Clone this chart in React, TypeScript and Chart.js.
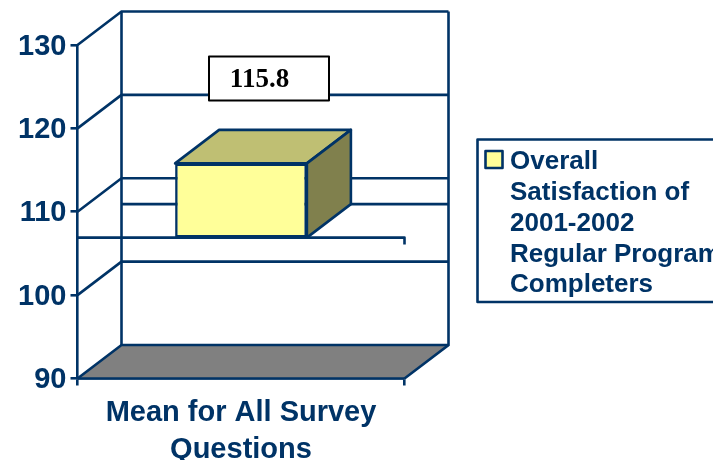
import { useEffect, useRef } from "react";
import { Chart, registerables } from "chart.js";

Chart.register(...registerables);

const categories = [["Mean for All Survey", "Questions"]];
const seriesLines = ["Overall", "Satisfaction of", "2001-2002", "Regular Program", "Completers"];
const seriesValues = [115.8];
const barBase = 106.9;
const yTicks = [90, 100, 110, 120, 130];

const NAVY = "#003366";
const STROKE = 2.6;
const DEPTH_X = 44;
const DEPTH_Y = -33.5;

// Draws the back wall, side wall, floor and the gridlines behind the box.
const walls = {
  id: "walls",
  beforeDatasetsDraw(chart: any) {
    const { ctx, chartArea: a, scales } = chart;
    const y = scales.y;
    const line = (pts: number[][]) => {
      ctx.beginPath();
      pts.forEach((p, i) => (i ? ctx.lineTo(p[0], p[1]) : ctx.moveTo(p[0], p[1])));
      ctx.stroke();
    };
    ctx.save();
    ctx.strokeStyle = NAVY;
    ctx.lineWidth = STROKE;
    ctx.lineJoin = "miter";

    ctx.fillStyle = "#808080";
    ctx.beginPath();
    ctx.moveTo(a.left, a.bottom);
    ctx.lineTo(a.left + DEPTH_X, a.bottom + DEPTH_Y);
    ctx.lineTo(a.right + DEPTH_X, a.bottom + DEPTH_Y);
    ctx.lineTo(a.right, a.bottom);
    ctx.closePath();
    ctx.fill();

    // Front edge of the floor, restored over its fill.
    line([
      [a.left, a.bottom],
      [a.right, a.bottom],
    ]);

    for (const v of yTicks) {
      const py = y.getPixelForValue(v);
      line([
        [a.left, py],
        [a.left + DEPTH_X, py + DEPTH_Y],
        [a.right + DEPTH_X, py + DEPTH_Y],
      ]);
    }
    line([
      [a.left + DEPTH_X, a.top + DEPTH_Y],
      [a.left + DEPTH_X, a.bottom + DEPTH_Y],
    ]);
    line([
      [a.right + DEPTH_X, a.top + DEPTH_Y],
      [a.right + DEPTH_X, a.bottom + DEPTH_Y],
      [a.right, a.bottom],
    ]);

    // Rear edge of the plane the box stands on.
    const basePx = y.getPixelForValue(barBase);
    line([
      [a.left + DEPTH_X, basePx + DEPTH_Y],
      [a.right + DEPTH_X, basePx + DEPTH_Y],
    ]);
    ctx.restore();
  },
  afterDatasetsDraw(chart: any) {
    const { ctx, chartArea: a, scales } = chart;
    const y = scales.y;
    const bar = chart.getDatasetMeta(0).data[0];
    const half = bar.width / 2;
    const left = bar.x - half;
    const right = bar.x + half;
    const top = y.getPixelForValue(seriesValues[0]);
    const base = y.getPixelForValue(barBase);

    ctx.save();
    ctx.strokeStyle = NAVY;
    ctx.lineWidth = STROKE;
    ctx.lineJoin = "round";

    // Top face of the box.
    ctx.fillStyle = "#BFBF73";
    ctx.beginPath();
    ctx.moveTo(left, top);
    ctx.lineTo(left + DEPTH_X, top + DEPTH_Y);
    ctx.lineTo(right + DEPTH_X, top + DEPTH_Y);
    ctx.lineTo(right, top);
    ctx.closePath();
    ctx.fill();
    ctx.stroke();

    // Side face of the box.
    ctx.fillStyle = "#80804D";
    ctx.beginPath();
    ctx.moveTo(right, top);
    ctx.lineTo(right + DEPTH_X, top + DEPTH_Y);
    ctx.lineTo(right + DEPTH_X, base + DEPTH_Y);
    ctx.lineTo(right, base);
    ctx.closePath();
    ctx.fill();
    ctx.stroke();

    // Front edge of the plane, with its end tick.
    ctx.beginPath();
    ctx.moveTo(a.left, base);
    ctx.lineTo(a.right, base);
    ctx.lineTo(a.right, base + 7);
    ctx.stroke();

    // Value label in its white box.
    const boxX = bar.x - 32;
    const boxY = top - 107;
    const boxW = 120;
    const boxH = 44;
    ctx.fillStyle = "#FFFFFF";
    ctx.strokeStyle = "#000000";
    ctx.lineWidth = 2;
    ctx.fillRect(boxX, boxY, boxW, boxH);
    ctx.strokeRect(boxX, boxY, boxW, boxH);
    ctx.fillStyle = "#000000";
    ctx.font = 'bold 27px "Liberation Serif"';
    ctx.textAlign = "center";
    ctx.textBaseline = "middle";
    ctx.fillText(seriesValues[0].toFixed(1), bar.x + 18.5, boxY + boxH / 2 + 2);

    // Series key on the right, running off the canvas edge.
    ctx.strokeStyle = NAVY;
    ctx.lineWidth = STROKE;
    ctx.strokeRect(477.5, 139.5, 260, 162.5);
    ctx.fillStyle = "#FFFF99";
    ctx.fillRect(485.5, 151, 17, 17);
    ctx.strokeRect(485.5, 151, 17, 17);
    ctx.fillStyle = NAVY;
    ctx.font = 'bold 26px "Liberation Sans"';
    ctx.textAlign = "left";
    ctx.textBaseline = "middle";
    seriesLines.forEach((t, i) => ctx.fillText(t, 510, 162 + i * 30.8));
    ctx.restore();
  },
};

export default function App() {
  const ref = useRef<HTMLCanvasElement>(null);
  useEffect(() => {
    const chart = new Chart(ref.current!, {
      type: "bar",
      data: {
        labels: categories as any,
        datasets: [
          {
            label: seriesLines.join(" "),
            data: seriesValues.map((v) => [barBase, v]) as any,
            backgroundColor: "#FFFF99",
            borderColor: NAVY,
            borderWidth: STROKE,
            borderSkipped: false,
            barPercentage: 0.403,
            categoryPercentage: 1,
          },
        ],
      },
      options: {
        responsive: false,
        animation: false,
        layout: { padding: { left: 0, top: 45, right: 308.5, bottom: 0 } },
        plugins: { legend: { display: false }, tooltip: { enabled: false } },
        scales: {
          x: {
            offset: true,
            afterFit: (s: any) => {
              s.height = 81.5;
            },
            border: { display: true, color: NAVY, width: STROKE },
            grid: { display: true, drawOnChartArea: false, color: NAVY, lineWidth: STROKE, tickLength: 7 },
            ticks: {
              color: NAVY,
              padding: 9,
              maxRotation: 0,
              font: { family: "Liberation Sans", weight: "bold", size: 29, lineHeight: 1.28 },
            },
          },
          y: {
            min: 90,
            max: 130,
            afterFit: (s: any) => {
              s.width = 77.5;
            },
            border: { display: true, color: NAVY, width: STROKE },
            grid: { display: true, drawOnChartArea: false, color: NAVY, lineWidth: STROKE, tickLength: 7 },
            ticks: {
              color: NAVY,
              stepSize: 10,
              padding: 4,
              labelOffset: 1.5,
              font: { family: "Liberation Sans", weight: "bold", size: 29, lineHeight: 1.35 },
            },
          },
        },
      },
      plugins: [walls],
    } as any);
    return () => chart.destroy();
  }, []);
  return (
    <div style={{ position: "fixed", left: 0, top: 0, width: 713, height: 460, background: "#fff", overflow: "hidden" }}>
      <canvas ref={ref} width={713} height={460} style={{ display: "block" }} />
    </div>
  );
}
